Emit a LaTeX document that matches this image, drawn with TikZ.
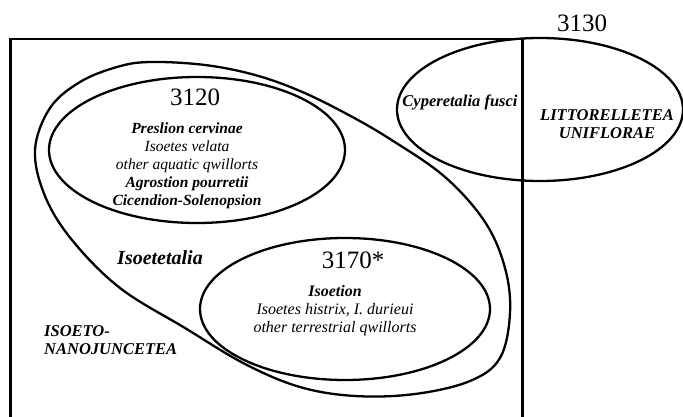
\documentclass[tikz,border=0pt]{standalone}
\usepackage{fontspec}
\setmainfont{Liberation Serif}
\begin{document}
\begin{tikzpicture}[x=1pt,y=-1pt,
  outline/.style={line width=2.3pt, line join=round},
  num/.style={font=\fontsize{25}{28}\selectfont, inner sep=0pt},
  txt/.style={font=\fontsize{16}{18}\selectfont\itshape, align=center, inner sep=0pt},
  bi/.style={font=\fontsize{16.5}{17.5}\selectfont\bfseries\itshape, inner sep=0pt}]
\useasboundingbox (0,0) rectangle (683,417);
% frame
\draw[line width=2.4pt] (10.5,420) -- (10.5,39) -- (522.5,39) -- (522.5,420);
% 3130 ellipse
\draw[outline] (540,109.5) ellipse [x radius=143, y radius=71.5];
% Isoetetalia outline
\draw[outline] plot[smooth cycle, tension=0.6] coordinates {
  (35,150) (50,108) (80,82) (117,67) (150,62) (205,65) (255,75) (300,91)
  (345,113) (390,139) (445,177) (485,222) (505,268) (510,313) (500,358)
  (470,381) (415,394) (355,396) (300,387) (245,364) (185,328)
  (120,288) (72,240) (45,196)};
% 3120 ellipse
\draw[outline] (197,150) ellipse [x radius=148, y radius=73];
% 3170 ellipse
\draw[outline] (345,309) ellipse [x radius=145, y radius=71];
% labels
\node[num] (n3130) at (582,23) {3130};
\node[num] (n3120) at (195,97) {3120};
\node[num] (n3170) at (353,260) {3170*};
\node[txt, font=\fontsize{15.5}{18}\selectfont\itshape] (t3120) at (187,166) {\textbf{Preslion cervinae}\\Isoetes velata\\other aquatic qwillorts\\\textbf{Agrostion pourretii}\\\textbf{Cicendion-Solenopsion}};
\node[txt] (t3170) at (335,311) {\textbf{Isoetion}\\Isoetes histrix, I. durieui\\other terrestrial qwillorts};
\node[bi] (cyp) at (460,102) {Cyperetalia fusci};
\node[bi, align=center] (lit) at (607,124) {LITTORELLETEA\\UNIFLORAE};
\node[font=\fontsize{20}{22}\selectfont\bfseries\itshape, inner sep=0pt] (iso) at (160,258) {Isoetetalia};
\node[bi, align=left, anchor=west] (nano) at (44,340) {ISOETO-\\NANOJUNCETEA};
\end{tikzpicture}
\end{document}
